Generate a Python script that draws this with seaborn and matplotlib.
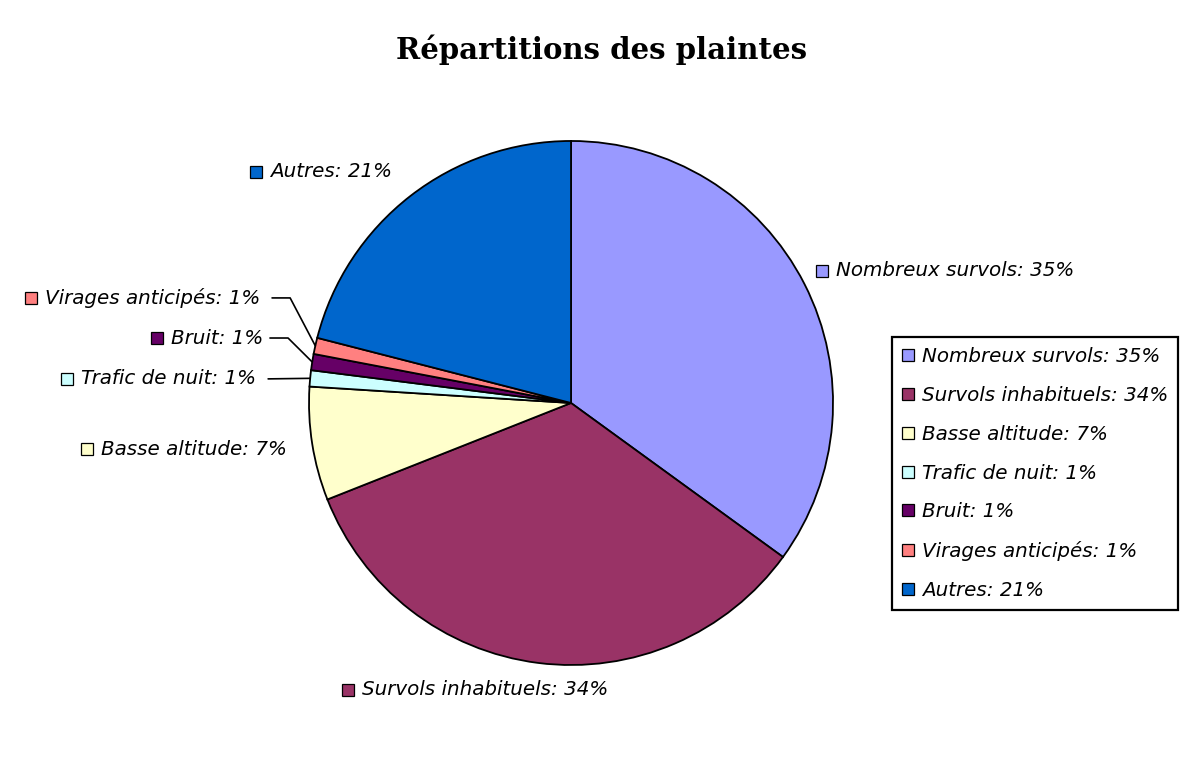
import numpy as np
import matplotlib
matplotlib.use("Agg")
import matplotlib.pyplot as plt
from matplotlib.lines import Line2D
import seaborn as sns

# ---- data ----
categories = ["Nombreux survols", "Survols inhabituels", "Basse altitude",
              "Trafic de nuit", "Bruit", "Virages anticipés", "Autres"]
values = [35, 34, 7, 1, 1, 1, 21]
hex_colors = ["#9999FF", "#993366", "#FFFFCC", "#CCFFFF", "#660066", "#FF8080", "#0066CC"]
title = "Répartitions des plaintes"

# ---- layout (positions of outside labels, in pie radius units) ----
label_pos = [(0.958, 0.504), (-0.851, -1.095), (-1.847, -0.176),
             (-1.924, 0.092), (-1.580, 0.248), (-2.061, 0.401), (-1.202, 0.882)]
# leader lines: index -> (start x, elbow x)
leaders = {3: (-1.156, -1.156), 4: (-1.149, -1.080), 5: (-1.141, -1.072)}

sns.set_theme(style="white")
plt.rcParams['font.family'] = ['DejaVu Sans']
plt.rcParams['text.color'] = 'black'
palette = sns.color_palette(hex_colors)

fig = plt.figure(figsize=(12, 7.6), dpi=100)
fig.patch.set_facecolor("white")
ax = fig.add_axes([0.2575, 0.125, 0.4367, 0.6895])

wedges, _ = ax.pie(values, colors=palette, startangle=90, counterclock=False,
                   wedgeprops=dict(edgecolor="black", linewidth=1.3), radius=1.0)
ax.set_xlim(-1, 1)
ax.set_ylim(-1, 1)
ax.set_aspect("equal")
ax.axis("off")

labels = [f"{c}: {v}%" for c, v in zip(categories, values)]
fs = 14.3

for i, (lab, col) in enumerate(zip(labels, palette)):
    sx, sy = label_pos[i]
    ax.plot([sx], [sy], marker="s", ms=8, mfc=col, mec="black", mew=0.9,
            clip_on=False, ls="none")
    ax.text(sx + 0.055, sy, lab, ha="left", va="center", style="italic",
            fontsize=fs, color="black", clip_on=False)
    if i in leaders:
        w = wedges[i]
        mid = np.deg2rad((w.theta1 + w.theta2) / 2)
        ex, ey = np.cos(mid), np.sin(mid)
        x0, xe = leaders[i]
        ax.plot([x0, xe, ex], [sy, sy, ey], color="black", lw=1.2, clip_on=False)

fig.suptitle(title, x=0.501, y=0.955, fontsize=21, fontweight="bold",
             family="DejaVu Serif", color="black")

handles = [Line2D([0], [0], marker="s", ls="none", ms=8, mfc=c, mec="black", mew=0.9)
           for c in palette]
leg = fig.legend(handles, labels, loc="upper left",
                 bbox_to_anchor=(892 / 1200, 1 - 337 / 760),
                 frameon=True, fancybox=False, shadow=False, framealpha=1.0,
                 prop=dict(size=fs, style="italic"),
                 handlelength=0.6, handletextpad=0.4, labelspacing=1.0,
                 borderpad=0.5, borderaxespad=0.0, labelcolor="black")
leg.get_frame().set_edgecolor("black")
leg.get_frame().set_linewidth(1.6)

fig.savefig("out.png", dpi=100, facecolor="white")
